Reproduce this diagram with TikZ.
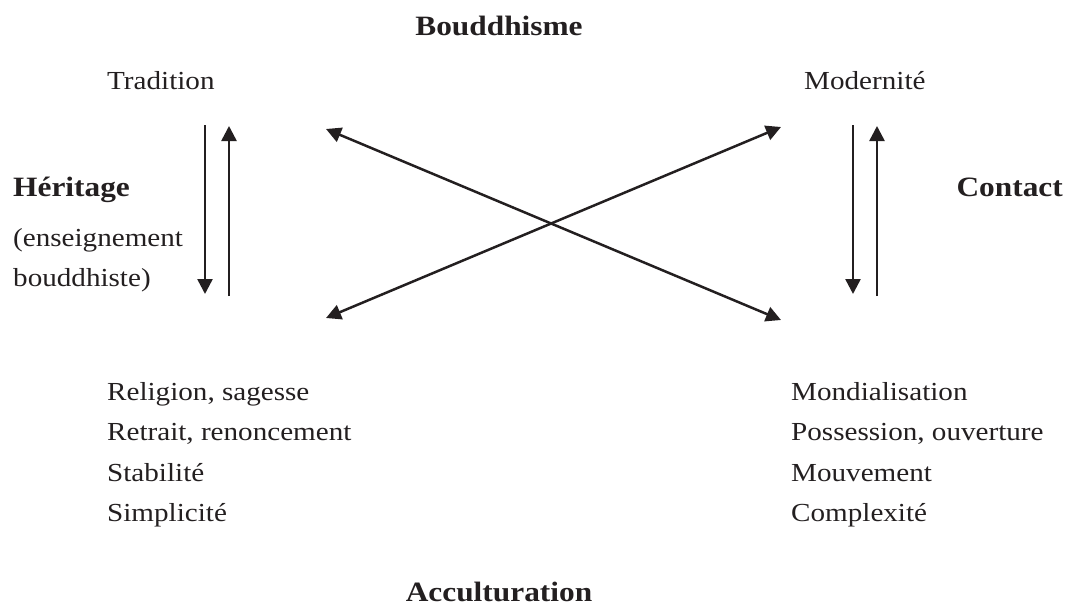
\documentclass[tikz,border=0pt]{standalone}
\usepackage{fontspec}
\usepackage{graphicx}
\setmainfont{Liberation Serif}
\usetikzlibrary{arrows.meta}
\newcommand{\hs}[1]{\scalebox{1.12}[1]{#1}}
\definecolor{ink}{HTML}{231F20}
\tikzset{
  txt/.style={inner sep=0pt, anchor=base west, text=ink, font=\fontsize{26}{30}\selectfont},
  ttl/.style={inner sep=0pt, anchor=base, text=ink, font=\fontsize{28}{32}\selectfont\bfseries},
  arr/.style={line width=2.5pt, -{Triangle[length=15pt,width=15pt]}, ink},
  darr/.style={line width=2.5pt, {Triangle[length=15pt,width=15pt]}-{Triangle[length=15pt,width=15pt]}, ink}
}
\begin{document}
\begin{tikzpicture}[x=1pt,y=-1pt]
\useasboundingbox (0,0) rectangle (1070,608);
\node[ttl] (bud) at (499,35) {\hs{Bouddhisme}};
\node[txt] (trad) at (107,89) {\hs{Tradition}};
\node[txt] (mod) at (804,89) {\hs{Modernité}};
\node[ttl, anchor=base west] (her) at (13,196) {\hs{Héritage}};
\node[txt] (ens1) at (13,246) {\hs{(enseignement}};
\node[txt] (ens2) at (13,286) {\hs{bouddhiste)}};
\node[ttl, anchor=base east] (con) at (1063,196) {\hs{Contact}};
\node[txt] (l1) at (107,400) {\hs{Religion, sagesse}};
\node[txt] (l2) at (107,440) {\hs{Retrait, renoncement}};
\node[txt] (l3) at (107,481) {\hs{Stabilité}};
\node[txt] (l4) at (107,521) {\hs{Simplicité}};
\node[txt] (r1) at (791,400) {\hs{Mondialisation}};
\node[txt] (r2) at (791,440) {\hs{Possession, ouverture}};
\node[txt] (r3) at (791,481) {\hs{Mouvement}};
\node[txt] (r4) at (791,521) {\hs{Complexité}};
\node[ttl] (acc) at (499,601) {\hs{Acculturation}};
% coordinates for arrows
\coordinate (ld1) at (205,125); \coordinate (ld2) at (205,294);
\coordinate (lu1) at (229,296); \coordinate (lu2) at (229,126);
\coordinate (rd1) at (853,125); \coordinate (rd2) at (853,294);
\coordinate (ru1) at (877,296); \coordinate (ru2) at (877,126);
\coordinate (tl) at (326,129); \coordinate (br) at (781,320);
\coordinate (bl) at (326,318); \coordinate (tr) at (781,127);
\draw[arr] (ld1) -- (ld2);
\draw[arr] (lu1) -- (lu2);
\draw[arr] (rd1) -- (rd2);
\draw[arr] (ru1) -- (ru2);
\draw[darr] (tl) -- (br);
\draw[darr] (bl) -- (tr);
\end{tikzpicture}
\end{document}
